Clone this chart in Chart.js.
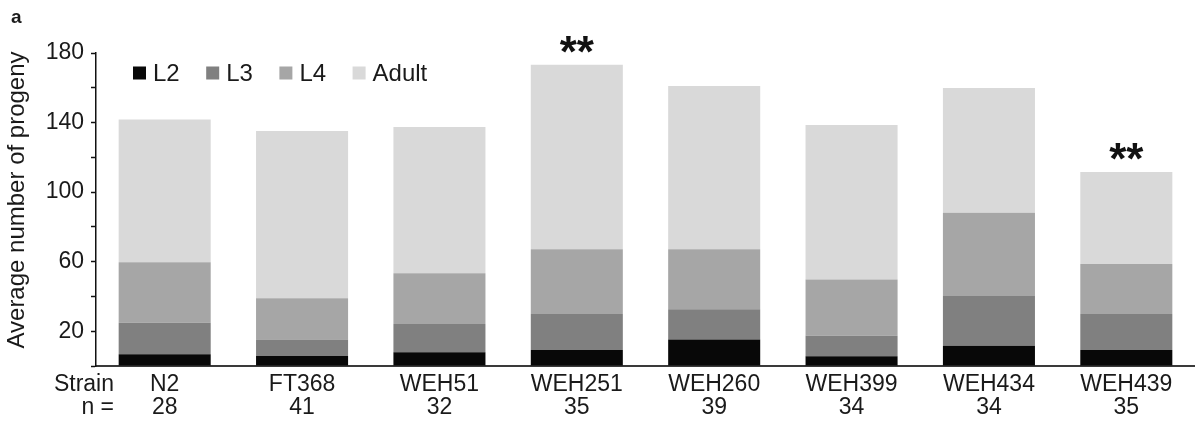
<!DOCTYPE html>
<html>
<head>
<meta charset="utf-8">
<title>Average number of progeny by strain</title>
<script src="https://cdn.jsdelivr.net/npm/chart.js@4/dist/chart.umd.min.js"></script>
<style>
  html, body { margin: 0; padding: 0; background: #ffffff; }
  #wrap { position: relative; width: 1195px; height: 430px; }
</style>
</head>
<body>
<div id="wrap"><canvas id="c" width="1195" height="430"></canvas></div>
<script>
// Strains and number of animals scored
const strains = ['N2', 'FT368', 'WEH51', 'WEH251', 'WEH260', 'WEH399', 'WEH434', 'WEH439'];
const sampleSizes = [28, 41, 32, 35, 39, 34, 34, 35];

// Average progeny per developmental stage (stacked)
const l2Values    = [6.7, 5.7, 7.9, 9.2, 15.3, 5.6, 11.7, 9.2];
const l3Values    = [18.2, 9.6, 16.2, 20.7, 17.4, 11.8, 28.5, 20.7];
const l4Values    = [34.7, 23.6, 29.3, 37.3, 34.5, 32.4, 47.9, 28.7];
const adultValues = [82.1, 96.3, 84.1, 106.1, 93.8, 88.8, 71.8, 53.0];

// Significance marks above the stacks
const significance = ['', '', '', '**', '', '', '', '**'];

// Y axis: ticks every 20, labels on these values only
const yLabelledTicks = [20, 60, 100, 140, 180];

const FONT = '"Liberation Sans", Arial, Helvetica, sans-serif';
Chart.defaults.font.family = FONT;
Chart.defaults.color = '#1a1a1a';

const TEXT = '#1a1a1a';
const TICK_FONT = 23;
const TICK_LINE = 0.97;
const TICK_PAD = 8;

// Row captions, panel letter and the rotated y-axis title
const captions = {
  id: 'captions',
  afterDraw(chart) {
    const ctx = chart.ctx;
    const xs = chart.scales.x;
    const lh = TICK_FONT * TICK_LINE;
    const y1 = xs.top + TICK_PAD + lh / 2;
    ctx.save();
    ctx.fillStyle = TEXT;
    ctx.font = TICK_FONT + 'px ' + FONT;
    ctx.textAlign = 'right';
    ctx.textBaseline = 'middle';
    ctx.fillText('Strain', 114, y1);
    ctx.fillText('n =', 114, y1 + lh);

    ctx.font = 'bold 19px ' + FONT;
    ctx.textAlign = 'left';
    ctx.textBaseline = 'alphabetic';
    ctx.fillText('a', 11, 23);

    ctx.translate(17, 200);
    ctx.rotate(-Math.PI / 2);
    ctx.font = '24px ' + FONT;
    ctx.textAlign = 'center';
    ctx.textBaseline = 'middle';
    ctx.fillText('Average number of progeny', 0, 0);
    ctx.restore();
  }
};

// Single-row legend in the upper-left corner of the plot
const stageLegend = {
  id: 'stageLegend',
  afterDraw(chart) {
    const ctx = chart.ctx;
    const box = 13, textGap = 7, itemGap = 26.5, cy = 73;
    let x = chart.chartArea.left + 37;
    ctx.save();
    ctx.font = '24px ' + FONT;
    ctx.textAlign = 'left';
    ctx.textBaseline = 'middle';
    chart.data.datasets.forEach((ds) => {
      ctx.fillStyle = ds.backgroundColor;
      ctx.fillRect(x, cy - box / 2, box, box);
      ctx.fillStyle = TEXT;
      const tx = x + box + textGap;
      ctx.fillText(ds.label, tx, cy + 1);
      x = tx + ctx.measureText(ds.label).width + itemGap;
    });
    ctx.restore();
  }
};

// Asterisks drawn above the top segment of flagged stacks
const sigMarks = {
  id: 'sigMarks',
  afterDatasetsDraw(chart) {
    const ctx = chart.ctx;
    const meta = chart.getDatasetMeta(chart.data.datasets.length - 1);
    ctx.save();
    ctx.fillStyle = '#111111';
    ctx.font = 'bold 44px ' + FONT;
    ctx.textAlign = 'center';
    ctx.textBaseline = 'alphabetic';
    significance.forEach((s, i) => {
      if (!s) return;
      const bar = meta.data[i];
      ctx.fillText(s, bar.x, bar.y + 2);
    });
    ctx.restore();
  }
};

const stageColors = ['#080808', '#808080', '#a6a6a6', '#d9d9d9'];

new Chart(document.getElementById('c'), {
  type: 'bar',
  data: {
    labels: strains.map((s, i) => [s, String(sampleSizes[i])]),
    datasets: [
      { label: 'L2',    data: l2Values,    backgroundColor: stageColors[0] },
      { label: 'L3',    data: l3Values,    backgroundColor: stageColors[1] },
      { label: 'L4',    data: l4Values,    backgroundColor: stageColors[2] },
      { label: 'Adult', data: adultValues, backgroundColor: stageColors[3] }
    ]
  },
  options: {
    responsive: false,
    animation: false,
    devicePixelRatio: 1,
    layout: { padding: { top: 53, right: 0, bottom: 0, left: 0 } },
    datasets: {
      bar: { categoryPercentage: 1.0, barPercentage: 0.67, borderWidth: 0 }
    },
    plugins: {
      legend: { display: false },
      tooltip: { enabled: false },
      title: { display: false }
    },
    scales: {
      x: {
        stacked: true,
        grid: { display: false, drawTicks: false },
        border: { display: true, color: '#3a3a3a', width: 2 },
        ticks: {
          padding: TICK_PAD,
          maxRotation: 0,
          autoSkip: false,
          color: TEXT,
          font: { size: TICK_FONT, lineHeight: TICK_LINE }
        },
        afterFit(scale) { scale.height = 64; }
      },
      y: {
        stacked: true,
        min: 0,
        max: 180,
        grid: {
          display: true,
          drawOnChartArea: false,
          drawTicks: true,
          tickLength: 5,
          tickColor: '#111111',
          tickWidth: 1.5
        },
        border: { display: true, color: '#111111', width: 1.5 },
        ticks: {
          stepSize: 20,
          padding: 7,
          color: TEXT,
          font: { size: TICK_FONT },
          callback: (v) => (yLabelledTicks.includes(v) ? String(v) : '')
        },
        title: { display: false },
        afterFit(scale) { scale.width = 96; }
      }
    }
  },
  plugins: [sigMarks, stageLegend, captions]
});
</script>
</body>
</html>
